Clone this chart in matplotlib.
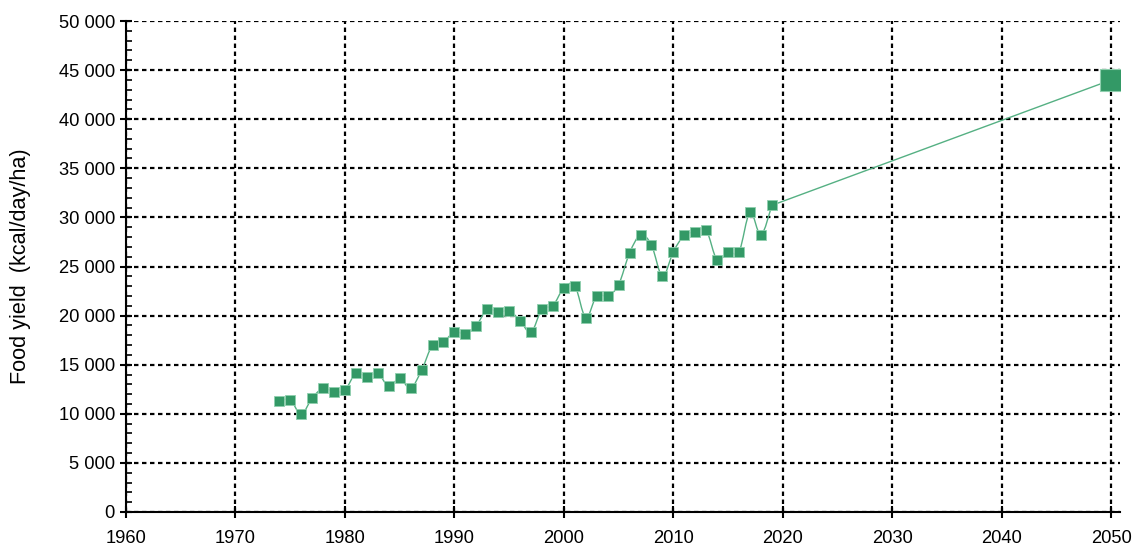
import numpy as np
import matplotlib.pyplot as plt
from matplotlib.path import Path
from matplotlib.patches import PathPatch
from matplotlib.ticker import FuncFormatter, MultipleLocator

plt.rcParams['font.family'] = ['Liberation Sans', 'DejaVu Sans']

# Historical food yield, kcal/day/ha
years = np.arange(1974, 2020)
yields = [11300, 11430, 9950, 11600, 12600, 12250, 12420, 14120, 13780, 14120,
          12800, 13610, 12600, 14430, 17000, 17340, 18330, 18160, 18970, 20670,
          20330, 20500, 19480, 18300, 20670, 21010, 22840, 23050, 19790, 22030,
          22000, 23150, 26380, 28210, 27190, 24000, 26510, 28180, 28510, 28690,
          25660, 26510, 26510, 30520, 28210, 31230]

# Target for 2050
target_year = 2050
target_yield = 44000

green = '#339966'
line_green = '#55b083'


def smooth_path(x, y):
    # Bezier path through the points, like a spreadsheet "smoothed line"
    x = np.asarray(x, float)
    y = np.asarray(y, float)
    verts = [(x[0], y[0])]
    codes = [Path.MOVETO]
    n = len(x)
    for i in range(n - 1):
        p0 = np.array([x[max(i - 1, 0)], y[max(i - 1, 0)]])
        p1 = np.array([x[i], y[i]])
        p2 = np.array([x[i + 1], y[i + 1]])
        p3 = np.array([x[min(i + 2, n - 1)], y[min(i + 2, n - 1)]])
        c1 = p1 + (p2 - p0) / 6
        c2 = p2 - (p3 - p1) / 6
        verts += [tuple(c1), tuple(c2), tuple(p2)]
        codes += [Path.CURVE4] * 3
    return Path(verts, codes)


fig = plt.figure(figsize=(11.32, 5.47), dpi=100)
ax = fig.add_axes([126 / 1132, 1 - 512 / 547, 994 / 1132, 491 / 547])

ax.add_patch(PathPatch(smooth_path(years, yields), fill=False,
                       edgecolor=line_green, lw=1.0, zorder=3))
ax.plot([years[-1], target_year], [yields[-1], target_yield],
        color=line_green, lw=1.0, zorder=3)
ax.plot(years, yields, ls='none', marker='s', ms=7.5, mfc=green,
        mec='#8fcfae', mew=0.6, zorder=4)
ax.plot([target_year], [target_yield], ls='none', marker='s', ms=16,
        mfc=green, mec='#8fcfae', mew=0.8, zorder=4)

ax.set_xlim(1960, 2050.8)
ax.set_ylim(0, 50000)
ax.xaxis.set_major_locator(MultipleLocator(10))
ax.yaxis.set_major_locator(MultipleLocator(5000))
ax.yaxis.set_minor_locator(MultipleLocator(1000))
ax.yaxis.set_major_formatter(FuncFormatter(lambda v, p: f'{int(v):,}'.replace(',', ' ')))

ax.grid(True, which='major', color='black', lw=1.6, ls=(0, (2, 1.6)))
ax.set_axisbelow(True)

for s in ['top', 'right']:
    ax.spines[s].set_visible(False)
for s in ['left', 'bottom']:
    ax.spines[s].set_linewidth(1.5)
    ax.spines[s].set_zorder(5)

ax.tick_params(which='major', direction='inout', length=8, width=1.5,
               labelsize=13.2, colors='black')
ax.tick_params(axis='y', which='minor', direction='in', length=4, width=1.2)
ax.tick_params(axis='x', pad=9)
ax.tick_params(axis='y', pad=4)

ax.set_ylabel('Food yield  (kcal/day/ha)', fontsize=15.6, labelpad=20)

fig.savefig('out.png', dpi=100)
